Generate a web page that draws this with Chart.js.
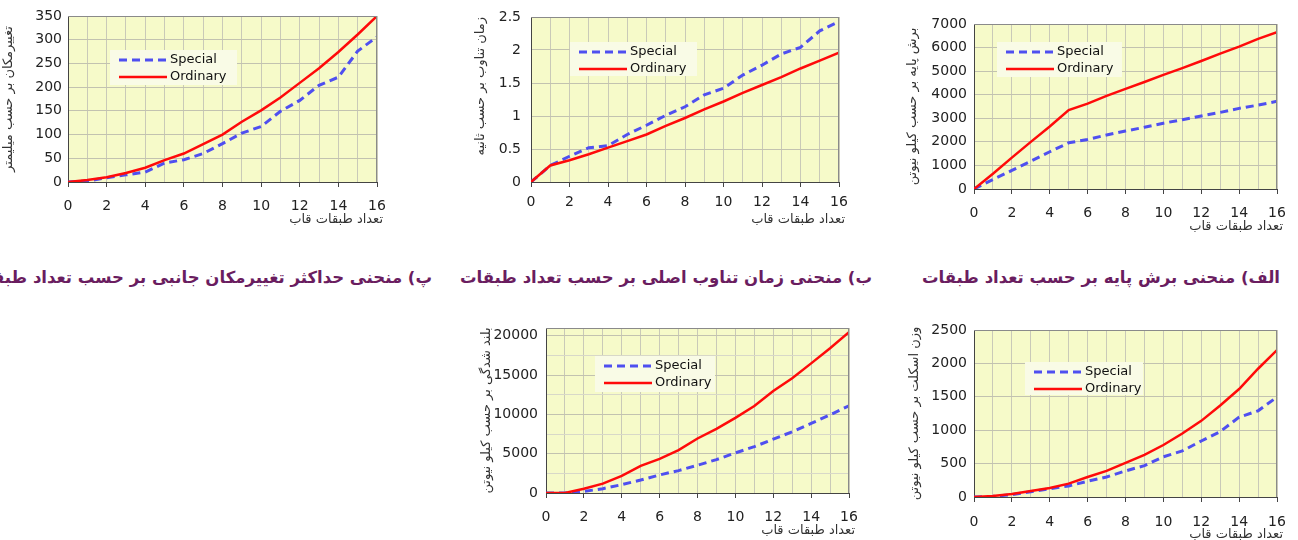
<!DOCTYPE html>
<html>
<head>
<meta charset="utf-8">
<script src="https://cdn.jsdelivr.net/npm/chart.js@4.4.1/dist/chart.umd.min.js"></script>
<style>
  html, body { margin: 0; padding: 0; background: #fff; }
  body { width: 1298px; height: 540px; position: relative; overflow: hidden; }
  canvas { position: absolute; }
  .caption {
    position: absolute; direction: rtl; text-align: right; white-space: nowrap;
    font-family: 'DejaVu Sans', sans-serif; font-weight: bold; font-size: 16.5px;
    color: #6a1d60;
  }
</style>
</head>
<body>
<canvas id="shear-chart"></canvas>
<canvas id="period-chart"></canvas>
<canvas id="drift-chart"></canvas>
<canvas id="uplift-chart"></canvas>
<canvas id="weight-chart"></canvas>

<div class="caption" style="right:18px; top:268px;">الف) منحنی برش پایه بر حسب تعداد طبقات</div>
<div class="caption" style="right:426px; top:268px;">ب) منحنی زمان تناوب اصلی بر حسب تعداد طبقات</div>
<div class="caption" style="right:866px; top:268px;">پ) منحنی حداکثر تغییرمکان جانبی بر حسب تعداد طبقات</div>

<script>
// تعداد طبقات
const stories = [0, 1, 2, 3, 4, 5, 6, 7, 8, 9, 10, 11, 12, 13, 14, 15, 16];
const seriesNames = ['Special', 'Ordinary'];
const xTitle = 'تعداد طبقات قاب';

// الف) برش پایه (kN)
const shearSpecial  = [0, 400, 790, 1180, 1580, 1960, 2100, 2290, 2460, 2620, 2790, 2940, 3100, 3250, 3420, 3560, 3720];
const shearOrdinary = [0, 650, 1330, 2000, 2650, 3350, 3620, 3950, 4250, 4540, 4840, 5130, 5430, 5740, 6040, 6370, 6650];
const shearTicks = [0, 1000, 2000, 3000, 4000, 5000, 6000, 7000];

// ب) زمان تناوب (s)
const periodSpecial  = [0, 0.25, 0.39, 0.52, 0.55, 0.72, 0.86, 1.01, 1.14, 1.32, 1.42, 1.62, 1.77, 1.94, 2.04, 2.29, 2.43];
const periodOrdinary = [0, 0.25, 0.33, 0.42, 0.52, 0.62, 0.72, 0.85, 0.97, 1.10, 1.22, 1.35, 1.47, 1.59, 1.72, 1.84, 1.96];
const periodTicks = [0, 0.5, 1, 1.5, 2, 2.5];

// پ) تغییرمکان (mm)
const driftSpecial  = [0, 2, 9, 15, 21, 40, 47, 60, 81, 103, 117, 149, 172, 204, 221, 276, 306];
const driftOrdinary = [0, 4, 10, 19, 30, 46, 60, 80, 100, 127, 151, 178, 209, 240, 274, 311, 350];
const driftTicks = [0, 50, 100, 150, 200, 250, 300, 350];

// بلند شدگی (kN)
const upliftSpecial  = [0, 0, 200, 550, 1060, 1650, 2300, 2850, 3530, 4250, 5100, 5900, 6850, 7790, 8850, 9950, 11100];
const upliftOrdinary = [0, 0, 550, 1190, 2170, 3450, 4340, 5450, 6940, 8170, 9570, 11060, 12980, 14600, 16500, 18430, 20470];
const upliftTicks = [0, 5000, 10000, 15000, 20000];

// وزن اسکلت (kN)
const weightSpecial  = [0, 10, 35, 80, 125, 165, 236, 300, 390, 470, 602, 690, 838, 979, 1195, 1290, 1496];
const weightOrdinary = [0, 15, 45, 90, 135, 200, 300, 390, 512, 630, 778, 950, 1140, 1370, 1616, 1920, 2199];
const weightTicks = [0, 500, 1000, 1500, 2000, 2500];

const FONT = 'DejaVu Sans';

const plotBg = {
    id: 'plotBg',
    beforeDraw(chart) {
        const a = chart.chartArea, ctx = chart.ctx;
        ctx.save();
        ctx.fillStyle = '#f6fac9';
        ctx.fillRect(a.left, a.top, a.right - a.left, a.bottom - a.top);
        ctx.restore();
    },
    afterDraw(chart) {
        const a = chart.chartArea, ctx = chart.ctx;
        ctx.save();
        ctx.strokeStyle = '#8a8a8a';
        ctx.lineWidth = 1;
        ctx.beginPath();
        ctx.moveTo(a.left, a.top + 0.5); ctx.lineTo(a.right, a.top + 0.5);
        ctx.moveTo(a.right - 0.5, a.top); ctx.lineTo(a.right - 0.5, a.bottom);
        ctx.stroke();
        // عنوان محور افقی
        ctx.fillStyle = '#333';
        ctx.font = '13px "' + FONT + '"';
        ctx.textAlign = 'right';
        ctx.textBaseline = 'middle';
        ctx.fillText(xTitle, a.right + 6, a.bottom + 38);
        ctx.restore();
    }
};

// لجند داخل ناحیه نمودار
const innerLegend = {
    id: 'innerLegend',
    afterDatasetsDraw(chart, args, opts) {
        const a = chart.chartArea, ctx = chart.ctx;
        const x = a.left + opts.x, y = a.top + opts.y;
        ctx.save();
        ctx.fillStyle = '#f9fbe6';
        ctx.fillRect(x, y, opts.w, opts.h);
        chart.data.datasets.forEach((ds, i) => {
            const ry = y + 10 + i * 17;
            ctx.strokeStyle = ds.borderColor;
            ctx.lineWidth = ds.borderWidth;
            ctx.setLineDash(ds.borderDash || []);
            ctx.beginPath();
            ctx.moveTo(x + 9, ry); ctx.lineTo(x + 57, ry);
            ctx.stroke();
            ctx.setLineDash([]);
            ctx.fillStyle = '#111';
            ctx.font = '13px "' + FONT + '"';
            ctx.textBaseline = 'middle';
            ctx.fillText(ds.label, x + 60, ry);
        });
        ctx.restore();
    }
};

function makeChart(id, box, special, ordinary, ticks, yTitle, legendPos) {
    const yw = box.L - box.titleX + 9;
    const canvas = document.getElementById(id);
    canvas.width = (box.R - box.L) + yw + 12;
    canvas.height = 12 + (box.B - box.T) + 48 + 4;
    canvas.style.left = (box.L - yw) + 'px';
    canvas.style.top = (box.T - 12) + 'px';

    const major = ticks[1] - ticks[0];
    const last = ticks[ticks.length - 1];
    const isMajor = v => Math.abs(v / major - Math.round(v / major)) < 1e-6;

    return new Chart(canvas.getContext('2d'), {
        type: 'line',
        data: {
            datasets: [{
                label: seriesNames[0],
                data: stories.map((s, i) => ({ x: s, y: special[i] })),
                borderColor: '#4f4ff0',
                borderWidth: 3,
                borderDash: [8, 5],
                pointRadius: 0,
                order: 1
            }, {
                label: seriesNames[1],
                data: stories.map((s, i) => ({ x: s, y: ordinary[i] })),
                borderColor: '#ff0a0a',
                borderWidth: 2.5,
                pointRadius: 0,
                order: 0
            }]
        },
        options: {
            responsive: false,
            animation: false,
            events: [],
            layout: { padding: { top: 12, right: 12, bottom: 4, left: 0 } },
            plugins: {
                legend: { display: false },
                tooltip: { enabled: false },
                innerLegend: legendPos
            },
            scales: {
                x: {
                    type: 'linear',
                    min: 0, max: 16,
                    afterFit: s => { s.height = 48; s.paddingLeft = 0; s.paddingRight = 0; },
                    ticks: {
                        stepSize: 1,
                        autoSkip: false,
                        maxRotation: 0,
                        padding: box.tickPad,
                        color: '#222',
                        font: { family: FONT, size: 14 },
                        callback: v => (v % 2 === 0 ? v : '')
                    },
                    grid: {
                        color: '#c9c9b8',
                        tickLength: 5,
                        tickColor: c => (c.tick && c.tick.value % 2 === 0 ? '#444' : 'rgba(0,0,0,0)')
                    },
                    border: { color: '#444', width: 1 }
                },
                y: {
                    min: 0, max: box.yMax,
                    afterFit: s => { s.width = yw; s.paddingTop = 0; s.paddingBottom = 0; },
                    afterBuildTicks: s => {
                        const list = [];
                        for (let k = 0; k * major / 2 <= last + 1e-9; k++) list.push({ value: k * major / 2 });
                        s.ticks = list;
                    },
                    ticks: {
                        padding: box.yPad,
                        color: '#222',
                        font: { family: FONT, size: 14 },
                        callback: v => (isMajor(v) ? v : '')
                    },
                    grid: {
                        drawTicks: false,
                        color: c => (c.tick && isMajor(c.tick.value) ? '#c2c2b0' : '#d8d8c8')
                    },
                    border: { color: '#444', width: 1 },
                    title: {
                        display: true,
                        text: yTitle,
                        align: box.titleAlign || 'center',
                        color: '#333',
                        font: { family: FONT, size: 13 },
                        padding: { top: 1, bottom: 0 }
                    }
                }
            }
        },
        plugins: [plotBg, innerLegend]
    });
}

makeChart('drift-chart',
    { L: 68, T: 16, R: 377, B: 182, titleX: 9, tickPad: 11, yPad: 6, yMax: 350 },
    driftSpecial, driftOrdinary, driftTicks, 'تغییرمکان بر حسب میلیمتر',
    { x: 42, y: 34, w: 127, h: 35 });

makeChart('period-chart',
    { L: 531, T: 17, R: 839, B: 182, titleX: 481, tickPad: 7, yPad: 10, yMax: 2.5, titleAlign: 'end' },
    periodSpecial, periodOrdinary, periodTicks, 'زمان تناوب بر حسب ثانیه',
    { x: 39, y: 25, w: 127, h: 34 });

makeChart('shear-chart',
    { L: 974, T: 24, R: 1277, B: 189, titleX: 913, tickPad: 11, yPad: 7, yMax: 7000 },
    shearSpecial, shearOrdinary, shearTicks, 'برش پایه بر حسب کیلو نیوتن',
    { x: 23, y: 18, w: 125, h: 35 });

makeChart('uplift-chart',
    { L: 546, T: 328, R: 849, B: 493, titleX: 487, tickPad: 11, yPad: 8, yMax: 21000 },
    upliftSpecial, upliftOrdinary, upliftTicks, 'بلند شدگی بر حسب کیلو نیوتن',
    { x: 49, y: 28, w: 120, h: 36 });

makeChart('weight-chart',
    { L: 974, T: 330, R: 1277, B: 497, titleX: 915, tickPad: 12, yPad: 7, yMax: 2500 },
    weightSpecial, weightOrdinary, weightTicks, 'وزن اسکلت بر حسب کیلو نیوتن',
    { x: 51, y: 32, w: 118, h: 33 });
</script>
</body>
</html>
